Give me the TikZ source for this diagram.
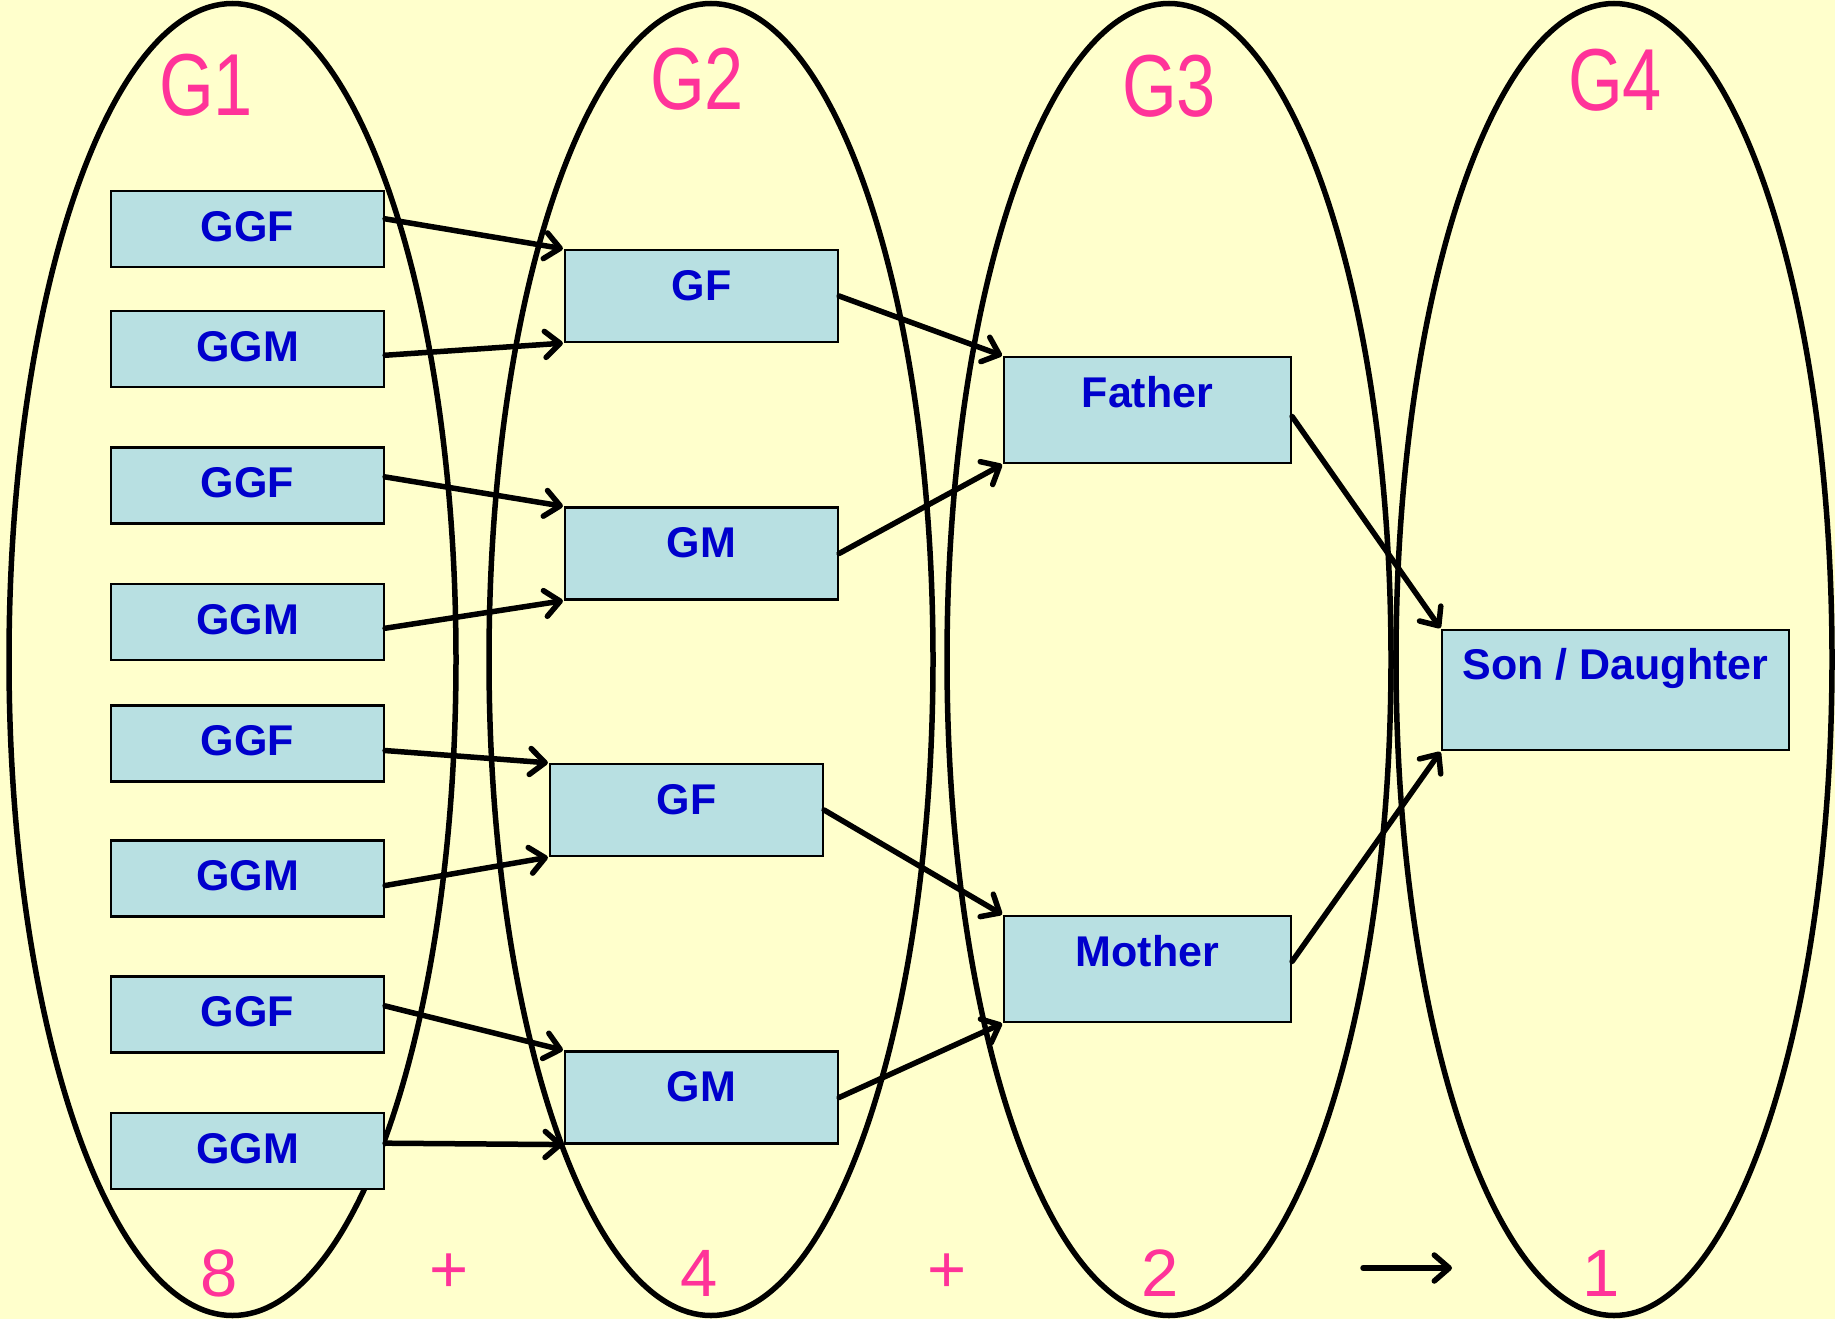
\documentclass[tikz,border=0pt]{standalone}
\usepackage{fontspec}
\setmainfont{Liberation Sans}
\usetikzlibrary{arrows.meta,calc}
\definecolor{bgyellow}{RGB}{255,255,204}
\definecolor{boxfill}{RGB}{184,224,226}
\definecolor{lblblue}{RGB}{0,0,204}
\definecolor{pinktxt}{RGB}{255,51,153}
\begin{document}
\begin{tikzpicture}[x=1pt,y=-1pt,
  gen/.style={draw=black,line width=5.5pt},
  box/.style={draw=black,line width=2.2pt,fill=boxfill,inner sep=0pt},
  g1box/.style={box,minimum width=273pt,minimum height=76pt},
  g2box/.style={box,minimum width=273pt,minimum height=92pt},
  g3box/.style={box,minimum width=287pt,minimum height=106pt},
  g4box/.style={box,minimum width=347pt,minimum height=120pt},
  lbl/.style={anchor=base,inner sep=0pt,text=lblblue,font=\fontsize{43}{43}\selectfont\bfseries},
  title/.style={anchor=base,inner sep=0pt,text=pinktxt,font=\fontsize{88}{88}\selectfont},
  num/.style={anchor=base,inner sep=0pt,text=pinktxt,font=\fontsize{67}{67}\selectfont},
  conn/.style={draw=black,line width=5.5pt,line cap=round,-{Straight Barb[length=15pt,width=26pt,round]},shorten >=1pt}
]
\useasboundingbox[fill=bgyellow] (0,0) rectangle (1835,1319);

% generation ellipses
\draw[gen] (232.5,659.5) ellipse [x radius=223.5, y radius=656];
\draw[gen] (711,659.5) ellipse [x radius=222, y radius=656];
\draw[gen] (1169,659.5) ellipse [x radius=222, y radius=656];
\draw[gen] (1614,659.5) ellipse [x radius=218, y radius=656];

% titles
\node[title] (t1) at (206,116) {\scalebox{0.8}[1]{G1}};
\node[title] (t2) at (697,110) {\scalebox{0.8}[1]{G2}};
\node[title] (t3) at (1169,117) {\scalebox{0.8}[1]{G3}};
\node[title] (t4) at (1615,111) {\scalebox{0.8}[1]{G4}};

% G1 boxes
\node[g1box] (ggf1) at (247.5,229) {};
\node[g1box] (ggm1) at (247.5,349) {};
\node[g1box] (ggf2) at (247.5,485.5) {};
\node[g1box] (ggm2) at (247.5,622) {};
\node[g1box] (ggf3) at (247.5,743.5) {};
\node[g1box] (ggm3) at (247.5,878.5) {};
\node[g1box] (ggf4) at (247.5,1014.5) {};
\node[g1box] (ggm4) at (247.5,1151) {};
\foreach \n/\t in {ggf1/GGF,ggm1/GGM,ggf2/GGF,ggm2/GGM,ggf3/GGF,ggm3/GGM,ggf4/GGF,ggm4/GGM}
  \node[lbl] (\n-l) at ([yshift=-51.5pt]\n.north) {\t};

% G2 boxes
\node[g2box] (gf1) at (701.5,296) {};
\node[g2box] (gm1) at (701.5,553.5) {};
\node[g2box] (gf2) at (686.5,810) {};
\node[g2box] (gm2) at (701.5,1097.5) {};
\foreach \n/\t in {gf1/GF,gm1/GM,gf2/GF,gm2/GM}
  \node[lbl] (\n-l) at ([yshift=-51.5pt]\n.north) {\t};

% G3 boxes
\node[g3box] (father) at (1147.5,410) {};
\node[g3box] (mother) at (1147.5,969) {};
\node[lbl] (father-l) at ([yshift=-51.5pt]father.north) {Father};
\node[lbl] (mother-l) at ([yshift=-51.5pt]mother.north) {Mother};

% G4 box
\node[g4box] (son) at (1615.5,690) {};
\node[lbl] (son-l) at ([yshift=-51pt]son.north) {Son / Daughter};

% connectors G1 -> G2
\draw[conn] ($(ggf1.north east)!0.37!(ggf1.south east)$) -- (gf1.north west);
\draw[conn] ($(ggm1.north east)!0.58!(ggm1.south east)$) -- (gf1.south west);
\draw[conn] ($(ggf2.north east)!0.39!(ggf2.south east)$) -- (gm1.north west);
\draw[conn] ($(ggm2.north east)!0.58!(ggm2.south east)$) -- (gm1.south west);
\draw[conn] ($(ggf3.north east)!0.59!(ggf3.south east)$) -- (gf2.north west);
\draw[conn] ($(ggm3.north east)!0.59!(ggm3.south east)$) -- (gf2.south west);
\draw[conn] ($(ggf4.north east)!0.39!(ggf4.south east)$) -- (gm2.north west);
\draw[conn] ($(ggm4.north east)!0.4!(ggm4.south east)$) -- (gm2.south west);

% connectors G2 -> G3
\draw[conn] (gf1.east) -- (father.north west);
\draw[conn] (gm1.east) -- (father.south west);
\draw[conn] (gf2.east) -- (mother.north west);
\draw[conn] (gm2.east) -- (mother.south west);

% connectors G3 -> G4
\draw[conn] ($(father.north east)!0.56!(father.south east)$) -- (son.north west);
\draw[conn] ($(mother.north east)!0.43!(mother.south east)$) -- (son.south west);

% bottom counts
\node[num] (n8) at (219,1296) {8};
\node[num,anchor=center] (p1) at (449,1273) {+};
\node[num] (n4) at (699,1296) {4};
\node[num,anchor=center] (p2) at (947,1273) {+};
\node[num] (n2) at (1160,1296) {2};
\coordinate (arrA) at (1363,1268);
\coordinate (arrB) at (1452,1268);
\draw[conn,shorten >=0pt] (arrA) -- (arrB);
\node[num] (n1) at (1601,1296) {1};
\end{tikzpicture}
\end{document}
